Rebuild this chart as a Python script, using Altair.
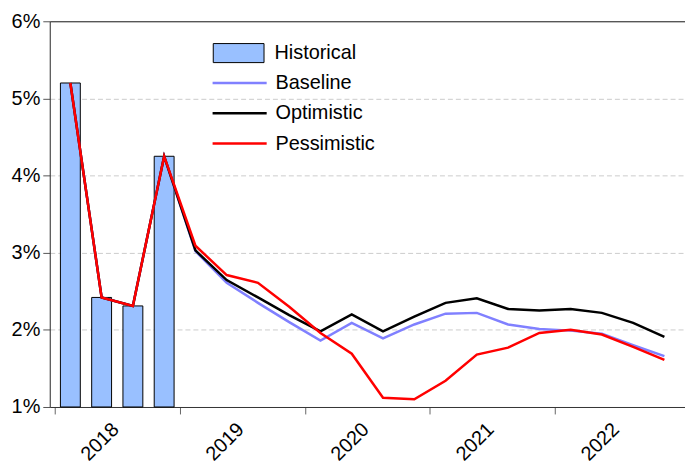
import altair as alt
import pandas as pd

quarters = [f"{y}Q{q}" for y in range(2018, 2023) for q in range(1, 5)]
hist_quarters = ["2018Q1", "2018Q2", "2018Q3", "2018Q4"]
historical = [5.20, 2.42, 2.31, 4.25]
baseline = [5.20, 2.42, 2.31, 4.25, 3.02, 2.61, 2.35, 2.10, 1.86, 2.09,
            1.89, 2.07, 2.21, 2.22, 2.07, 2.01, 1.99, 1.95, 1.80, 1.66]
optimistic = [5.20, 2.42, 2.31, 4.25, 3.03, 2.645, 2.42, 2.19, 1.98, 2.20,
              1.98, 2.17, 2.35, 2.41, 2.27, 2.25, 2.27, 2.22, 2.09, 1.91]
pessimistic = [5.20, 2.42, 2.31, 4.25, 3.09, 2.71, 2.61, 2.30, 1.96, 1.69,
               1.12, 1.10, 1.34, 1.68, 1.77, 1.96, 2.00, 1.94, 1.78, 1.61]
year_ticks = [2018, 2019, 2020, 2021, 2022]
y_ticks = [1, 2, 3, 4, 5, 6]


def qpos(q):
    return int(q[:4]) + (int(q[-1]) - 0.5) / 4


bars = pd.DataFrame({"t": [qpos(q) for q in hist_quarters],
                     "value": historical, "series": "Historical"})
lines = pd.DataFrame({"t": [qpos(q) for q in quarters],
                      "Baseline": baseline, "Optimistic": optimistic,
                      "Pessimistic": pessimistic}).melt("t", var_name="series", value_name="value")

FONT = "Liberation Sans"
x_vals = []
for y in year_ticks:
    x_vals += [y, y + 0.5]

x_scale = alt.Scale(domain=[2018, 2023], nice=False, zero=False)
y_scale = alt.Scale(domain=[1, 6], nice=False, zero=False)

x_axis = alt.Axis(
    values=x_vals,
    labelExpr="datum.value % 1 ? '' + floor(datum.value) : ''",
    tickOpacity={"condition": {"test": "datum.value % 1 == 0", "value": 1}, "value": 0},
    labelAngle=-45, labelAlign="right", labelBaseline="middle",
    labelFont=FONT, labelFontSize=20, labelColor="black", labelPadding=12,
    labelOffset=-2,
    tickSize=7, tickColor="#666666", domainColor="#333333", grid=False, title=None,
    labelOverlap=False, labelFlush=False,
)
y_axis = alt.Axis(
    values=y_ticks, labelExpr="datum.value + '%'",
    labelFont=FONT, labelFontSize=20, labelColor="black", labelPadding=3,
    tickSize=7, tickColor="#555555", domainColor="#333333", title=None,
    grid=True,
    gridDash={"condition": {"test": "datum.value == 6", "value": []}, "value": [5, 3]},
    gridColor={"condition": {"test": "datum.value == 6", "value": "#222222"}, "value": "#cccccc"},
    gridOpacity={"condition": {"test": "datum.value == 1", "value": 0}, "value": 1},
)

fill_legend = alt.Legend(
    orient="none", legendX=180, legendY=22, title=None, padding=0,
    symbolType="M-4,-1.5H4V1.5H-4Z", symbolSize=163,
    symbolStrokeColor="black", symbolStrokeWidth=1, symbolOpacity=1,
    labelFont=FONT, labelFontSize=20, labelColor="black", labelOffset=26,
)
stroke_legend = alt.Legend(
    orient="none", legendX=181, legendY=52, title=None, padding=0,
    symbolType="M-4,0H4", symbolSize=185, symbolStrokeWidth=2.5,
    labelFont=FONT, labelFontSize=20, labelColor="black", labelOffset=26,
    rowPadding=10.5,
)

stroke_scale = alt.Scale(domain=["Baseline", "Optimistic", "Pessimistic"],
                         range=["#8080FF", "#000000", "#FF0000"])

bar_layer = alt.Chart(bars).mark_bar(width=20, stroke="black", strokeWidth=1).encode(
    x=alt.X("t:Q", scale=x_scale, axis=x_axis),
    y=alt.Y("value:Q", scale=y_scale, axis=y_axis),
    y2=alt.datum(1),
    fill=alt.Fill("series:N", scale=alt.Scale(domain=["Historical"], range=["#99C0FF"]),
                  legend=fill_legend),
)

line_layers = []
for s in ["Baseline", "Optimistic", "Pessimistic"]:
    line_layers.append(
        alt.Chart(lines).transform_filter(alt.datum.series == s)
        .mark_line(strokeWidth=2.5)
        .encode(
            x=alt.X("t:Q", scale=x_scale, axis=x_axis),
            y=alt.Y("value:Q", scale=y_scale, axis=y_axis),
            stroke=alt.Stroke("series:N", scale=stroke_scale, legend=stroke_legend),
        )
    )

chart = alt.layer(bar_layer, *line_layers).properties(
    width=639, height=388,
    padding={"top": 2, "bottom": 0, "left": 3, "right": 0},
).configure_view(stroke=None).configure(background="white")

chart.save("out.html", embed_options={"renderer": "svg", "actions": False})
